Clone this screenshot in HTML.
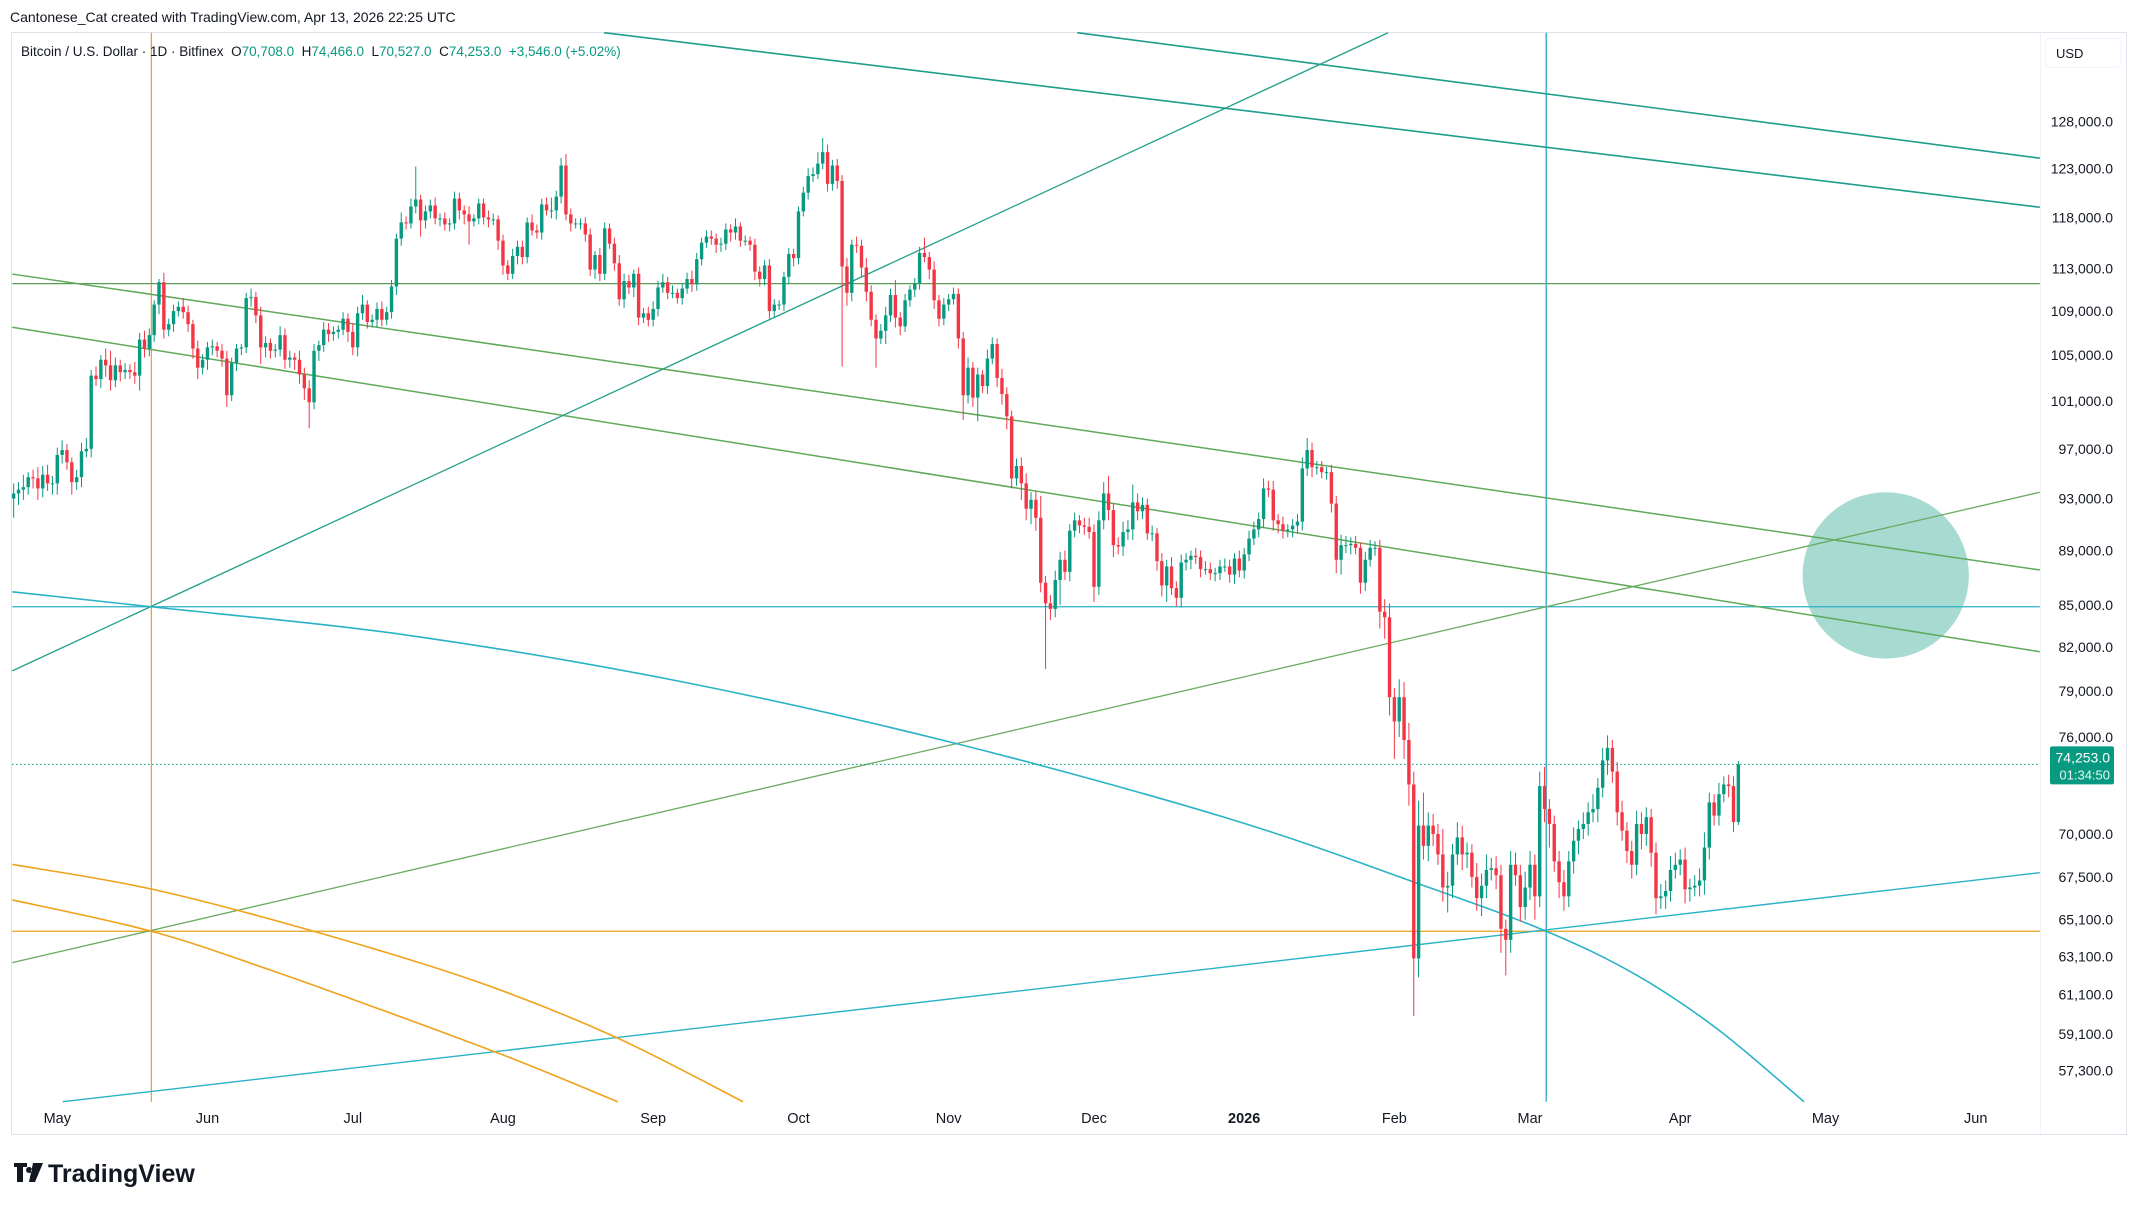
<!DOCTYPE html>
<html><head><meta charset="utf-8"><style>
html,body{margin:0;padding:0;background:#fff;width:2138px;height:1208px;overflow:hidden}
svg{display:block}
text{font-family:"Liberation Sans",sans-serif}
</style></head><body>
<svg id="c" width="2138" height="1208" viewBox="0 0 2138 1208" xmlns="http://www.w3.org/2000/svg">
<rect x="0" y="0" width="2138" height="1208" fill="#fff"/>
<text x="10" y="22" font-size="14" fill="#131722">Cantonese_Cat created with TradingView.com, Apr 13, 2026 22:25 UTC</text>
<rect x="11.5" y="32.5" width="2115" height="1102" fill="none" stroke="#e0e3eb"/>
<line x1="2040.5" y1="33" x2="2040.5" y2="1134" stroke="#f0f3fa"/>
<g id="draw"></g>
<g id="candles"></g>
<g id="axes"></g>
<text x="21" y="56" font-size="13.5" fill="#131722" xml:space="preserve">Bitcoin / U.S. Dollar · 1D · Bitfinex  <tspan fill="#131722">O</tspan><tspan fill="#089981">70,708.0</tspan>  <tspan fill="#131722">H</tspan><tspan fill="#089981">74,466.0</tspan>  <tspan fill="#131722">L</tspan><tspan fill="#089981">70,527.0</tspan>  <tspan fill="#131722">C</tspan><tspan fill="#089981">74,253.0  +3,546.0 (+5.02%)</tspan></text>
<rect x="2045.5" y="38.5" width="75" height="29" rx="4" fill="#fff" stroke="#f0f3fa"/>
<text x="2056" y="58" font-size="13" fill="#131722">USD</text>
<g>
<path d="M14 1163h13v4h-4v15h-6v-15h-3z M29 1167a3 3 0 1 0 0.1 0z M33 1163h10l-8 19h-6z" fill="#131722"/>
<text x="48" y="1182" font-size="25" font-weight="bold" fill="#131722">TradingView</text>
</g>
</svg>
<script>
// ---- data ----
const startDateLabel = "2025-04-22";
const closes = [
93.4,93.7,93.9,94.7,94.6,93.8,94.9,94.2,94.2,
96.5,96.9,95.9,94.3,94.7,96.8,97.0,103.2,102.9,104.6,104.1,102.8,104.1,103.5,103.7,103.5,103.2,106.4,105.6,106.8,109.6,111.7,107.3,107.8,109.0,109.4,108.9,107.8,105.6,103.9,104.6,
105.7,105.8,105.4,104.7,101.5,104.3,105.6,105.7,110.2,110.3,108.6,105.7,106.1,105.4,105.5,106.8,104.6,104.8,104.6,103.3,102.1,100.9,105.4,105.9,107.3,106.9,107.1,107.3,108.3,107.1,
105.7,108.8,109.6,108.0,108.2,109.2,108.2,108.9,111.3,115.9,117.5,117.4,119.1,119.8,117.7,118.6,119.2,117.9,117.9,117.3,117.4,119.9,118.7,118.3,117.6,117.9,119.4,118.0,117.8,117.8,115.7,
113.3,112.5,114.2,115.1,114.1,117.5,116.7,116.5,119.3,118.7,118.7,120.1,123.3,118.3,117.4,117.4,117.4,116.3,112.9,114.3,112.5,116.9,115.4,113.5,110.1,111.8,111.2,112.5,108.4,108.8,108.2,
109.2,111.2,111.7,110.7,110.7,110.2,111.1,112.0,111.5,113.9,115.5,116.1,115.9,115.3,115.4,116.8,116.5,117.1,115.7,115.7,115.3,112.7,112.0,113.3,109.0,109.6,109.6,112.2,114.4,114.0,
118.6,120.5,122.2,122.4,123.5,124.7,121.4,123.3,121.7,113.2,110.7,115.3,115.2,113.1,110.8,108.2,106.5,107.2,108.6,110.5,108.4,107.6,110.0,111.0,111.6,114.5,114.1,112.9,110.0,108.3,109.6,
110.1,110.6,106.5,101.5,103.9,101.3,103.3,102.3,104.7,106.0,103.0,101.6,99.7,94.6,95.6,94.2,92.2,92.9,91.5,86.6,85.1,84.7,86.8,88.3,87.4,90.5,91.3,90.9,90.8,90.4,
86.3,91.3,93.4,92.1,89.4,89.3,90.4,90.6,92.7,92.0,92.5,90.3,90.3,88.2,86.4,87.8,86.2,85.5,88.1,88.3,88.6,88.5,87.6,87.6,87.3,87.3,87.8,87.8,87.2,88.4,87.5,
88.7,89.9,90.6,91.4,93.8,93.7,91.3,91.0,90.5,90.6,90.9,91.2,95.4,96.9,95.5,95.5,95.1,95.1,92.6,88.3,89.4,89.4,89.5,89.2,86.6,88.3,89.2,89.2,84.5,84.1,78.6,
77.0,78.6,75.8,73.0,63.0,70.5,69.3,70.5,70.0,68.8,66.9,67.0,68.8,69.8,68.8,68.9,67.5,66.3,67.0,67.9,68.0,67.6,64.6,64.0,68.2,67.6,65.8,66.9,
68.2,66.4,72.9,71.5,70.6,68.4,67.2,66.4,68.4,69.6,70.3,70.6,71.3,71.5,72.8,74.5,75.3,73.8,71.3,70.2,69.0,68.2,70.6,70.0,71.0,68.9,66.3,66.4,66.7,67.9,68.2,
68.5,66.8,66.9,67.0,67.3,69.2,71.9,71.1,72.4,73.0,72.9,70.708,74.253
];
const wickUp = [
0.8,0.6,1.0,0.4,0.6,0.9,0.7,0.8,0.6,
0.6,0.8,0.5,0.4,0.6,0.7,0.9,0.5,0.8,0.4,1.0,1.3,0.7,0.5,0.6,0.5,0.9,0.6,0.8,0.6,0.4,0.3,0.9,0.5,0.6,0.5,0.8,0.6,0.4,0.7,0.5,
0.5,0.6,0.4,0.6,0.7,0.5,0.4,0.3,0.5,0.8,0.5,0.8,0.6,0.4,0.5,0.8,0.6,0.6,0.4,0.8,0.6,0.7,0.6,0.4,0.7,0.6,0.5,0.4,0.6,0.5,
0.8,0.6,0.9,0.4,0.5,0.6,0.7,0.5,0.6,0.5,1.0,0.6,0.8,3.4,0.5,0.6,0.6,0.8,0.5,0.6,0.5,0.7,0.6,0.5,0.8,0.4,0.5,0.5,0.7,0.6,0.4,
0.6,0.5,0.7,0.6,0.6,0.5,0.8,0.6,0.6,0.7,1.3,0.6,0.8,1.2,0.6,0.5,0.5,0.6,0.6,0.4,0.7,0.6,0.5,0.6,0.8,0.7,0.6,0.4,0.6,0.5,0.6,
0.7,0.6,0.8,0.5,0.7,0.4,0.5,0.6,0.8,0.6,0.5,0.6,0.6,0.5,0.6,0.6,0.5,0.8,0.4,0.5,0.4,0.6,0.5,0.5,0.6,0.5,0.4,0.5,0.6,0.5,
0.5,0.6,0.8,0.7,1.2,1.5,0.8,0.6,0.7,0.6,0.8,0.5,0.8,0.6,0.9,0.6,0.5,0.6,0.8,0.6,1.4,0.5,0.6,0.4,0.5,0.6,1.5,0.5,0.8,0.5,0.6,
0.5,0.6,0.5,0.6,0.9,0.5,0.6,0.4,0.8,0.6,0.5,0.8,0.6,0.5,0.6,0.7,0.8,0.6,0.7,1.7,0.5,0.6,0.7,0.6,0.7,0.5,0.6,0.4,0.6,0.7,
0.6,0.7,0.9,1.4,0.5,0.6,0.8,0.7,1.4,0.7,0.6,0.5,0.6,0.4,0.6,0.5,0.7,0.5,0.6,0.5,0.4,0.6,0.5,0.6,0.5,0.4,0.5,0.6,0.5,0.4,0.6,
0.5,0.6,0.6,0.5,0.8,0.6,0.7,0.5,0.6,0.4,0.5,0.6,0.9,1.0,0.6,0.5,0.5,0.4,0.6,0.6,0.8,0.7,0.5,0.6,0.4,0.6,0.6,0.5,0.6,0.9,1.0,
0.6,1.2,1.0,1.1,0.8,1.5,2.0,0.8,0.7,0.6,1.5,0.8,0.6,0.9,0.7,0.6,0.5,0.8,0.7,0.9,0.6,0.7,0.6,0.5,0.8,0.7,0.6,0.9,
0.8,0.6,0.9,1.2,0.6,0.5,0.6,0.7,0.6,0.8,0.5,0.7,0.6,0.9,0.6,0.8,0.8,0.5,0.6,0.7,0.5,0.6,0.8,0.7,0.6,0.5,0.6,0.7,0.6,0.8,0.7,
0.6,0.7,0.5,0.6,0.7,0.9,0.6,0.5,0.7,0.5,0.6,0.6,0.213
];
const wickDn = [
1.5,0.9,0.8,0.6,0.8,0.9,0.7,0.6,0.9,
0.9,0.7,0.6,1.0,0.6,0.8,0.5,0.7,0.6,0.8,1.0,0.9,0.6,0.8,0.6,0.6,0.7,1.3,0.8,0.7,0.6,0.9,0.8,0.6,0.7,0.5,0.6,0.7,0.9,1.0,0.6,
0.9,0.7,0.6,0.7,1.0,0.5,0.7,0.6,0.5,0.8,0.7,1.5,0.9,0.7,0.6,0.6,0.8,0.7,0.9,0.8,1.0,2.2,0.6,0.9,0.6,0.7,0.6,0.6,0.5,0.9,
0.7,0.8,0.6,0.6,0.5,0.7,0.6,0.5,0.6,0.8,0.7,0.6,0.5,0.7,1.6,0.8,0.7,0.6,0.8,0.6,0.7,0.6,0.9,1.0,2.3,0.5,0.6,0.7,0.8,0.6,0.9,
0.9,0.6,0.5,0.8,0.7,0.6,0.5,0.6,0.7,0.5,0.8,0.9,0.7,0.6,0.8,0.5,0.6,0.7,0.6,0.9,0.7,0.6,0.5,0.7,0.6,0.8,0.6,0.9,0.7,0.5,0.6,
0.6,0.7,0.5,0.6,0.5,0.5,0.6,0.5,0.7,0.6,0.6,0.5,0.6,0.8,0.7,0.6,0.9,0.7,0.6,0.5,0.6,0.8,0.7,0.6,0.7,0.6,0.5,0.6,0.7,0.8,
0.6,0.5,0.7,0.6,0.5,0.6,0.8,0.7,0.8,9.2,1.2,0.8,0.7,0.9,0.9,0.6,2.6,0.5,1.2,0.6,0.9,0.8,0.5,0.6,0.7,0.6,0.5,0.9,0.8,0.7,0.6,
0.6,0.5,0.9,2.1,0.7,0.8,2.0,0.6,0.7,0.5,0.8,0.9,1.1,0.8,0.6,1.3,0.9,1.2,1.0,0.7,4.6,0.8,0.6,1.8,0.6,0.7,0.5,0.6,0.6,0.5,
1.1,0.6,0.7,0.8,0.9,0.6,0.7,0.6,0.8,0.7,0.6,0.5,0.6,0.7,0.8,1.2,0.5,0.6,0.7,0.6,0.7,0.5,0.6,0.4,0.5,0.6,0.5,0.4,0.6,0.7,0.5,
0.6,0.5,0.5,0.6,0.7,0.6,0.8,0.7,0.6,0.5,0.6,0.6,0.7,0.6,0.8,0.6,0.5,0.6,0.7,1.0,1.1,0.6,0.7,0.5,0.8,0.6,0.5,0.6,1.2,1.5,1.2,
2.4,1.0,1.2,1.3,3.0,1.0,0.8,0.9,0.7,0.6,0.8,1.4,0.7,0.6,0.9,0.8,0.6,0.7,1.0,0.7,0.6,0.8,1.3,1.9,0.7,0.6,0.8,0.7,
0.7,1.3,0.6,0.8,1.4,0.6,0.9,0.8,0.6,0.7,0.8,0.6,0.7,0.6,0.8,0.6,0.9,0.7,0.8,0.6,0.7,0.8,0.6,0.9,0.7,0.8,0.9,0.6,0.7,0.6,0.5,
0.6,0.8,0.7,0.5,0.6,0.8,0.7,0.6,0.6,0.5,0.7,0.6,0.181
];
const firstOpen = 93.0;
const priceTicks = [128000,123000,118000,113000,109000,105000,101000,97000,93000,89000,85000,82000,79000,76000,70000,67500,65100,63100,61100,59100,57300];
const monthLabels = ["May","Jun","Jul","Aug","Sep","Oct","Nov","Dec","2026","Feb","Mar","Apr","May","Jun"];
const monthDays = [0,31,61,92,123,153,184,214,245,276,304,335,365,396];
const lastPrice = 74253;
const firstDayOffset = -9; // Apr 22 2025 relative to May 1 2025

// ---- axes ----
const NS="http://www.w3.org/2000/svg";
const S=2138/1568;
const X0=42*S, DX=3.553*S, Y0=89*S, KY=866*S, PREF=128000;
const PL=12, PR=2040, PT=33, PB=1102;
function xDay(d){return X0+d*DX;}
function yP(p){return Y0+Math.log(PREF/p)*KY;}
function mk(tag,attrs,parent){const e=document.createElementNS(NS,tag);for(const k in attrs)e.setAttribute(k,attrs[k]);parent.appendChild(e);return e;}

// ---- drawings (annotation geometry in reference-view units) ----
const dg=document.getElementById('draw');
function L(x1,y1,x2,y2,col,w,name){
  const e=mk('line',{x1:x1*S,y1:y1*S,x2:x2*S,y2:y2*S,stroke:col,'stroke-width':w},dg);
  
  
  return e;
}
function P(pts,col,w,name){
  let d='';
  for(let i=0;i<pts.length;i++){
    const p=pts[i];
    if(i===0){d+='M'+p[0]*S+','+p[1]*S;continue;}
    const p0=pts[Math.max(0,i-2)],p1=pts[i-1],p3=pts[Math.min(pts.length-1,i+1)];
    const c1x=p1[0]+(p[0]-p0[0])/6,c1y=p1[1]+(p[1]-p0[1])/6,c2x=p[0]-(p3[0]-p1[0])/6,c2y=p[1]-(p3[1]-p1[1])/6;
    d+=' C'+c1x*S+','+c1y*S+' '+c2x*S+','+c2y*S+' '+p[0]*S+','+p[1]*S;
  }
  const e=mk('path',{d:d,fill:'none',stroke:col,'stroke-width':w},dg);
  
  
}
const circ=mk('circle',{cx:1383*S,cy:422*S,r:61*S,fill:'#0a9a80','fill-opacity':0.36},dg);


L(111,24,111,808,'#e8a317',1.2,'orange-vertical-line');
L(1134,24,1134,808,'#2aa8bf',1.3,'cyan-vertical-line');
L(9,208,1496,208,'#5a9e55',1.3,'green-horizontal-line');
L(9,445,1496,445,'#2ab3c6',1.3,'cyan-horizontal-line');
L(9,683,1496,683,'#e6a21b',1.3,'orange-horizontal-line');
L(9,201,1496,418,'#5fa95a',1.5,'green-descending-line-1');
L(9,240,1496,478,'#5fa95a',1.5,'green-descending-line-2');
L(9,706,1496,361,'#6aab60',1.3,'green-ascending-line');
L(9,492,1018,24,'#22a08c',1.3,'teal-ascending-line');
L(443,24,1496,152,'#1e9c8c',1.6,'teal-descending-line-1');
L(790,24,1496,116,'#1e9c8c',1.6,'teal-descending-line-2');
L(46,808,1496,640,'#2ab3c6',1.4,'cyan-ascending-line');
P([[9,434],[111,445],[300,466],[500,500],[700,545],[900,600],[1040,648],[1134,683],[1200,715],[1260,755],[1323,808]],'#2ab3c6',1.6,'cyan-descending-curve');
P([[9,634],[111,652],[230,683],[350,720],[450,760],[545,808]],'#f0a21a',1.6,'orange-curve-upper');
P([[9,660],[111,683],[200,712],[300,748],[380,778],[453,808]],'#f0a21a',1.6,'orange-curve-lower');
const lp=mk('line',{x1:PL,y1:yP(lastPrice),x2:PR,y2:yP(lastPrice),stroke:'#089981','stroke-width':1,'stroke-dasharray':'1.5 2.5'},dg);



// ---- candles ----
const cg=document.getElementById('candles');
let prev=firstOpen;
for(let i=0;i<closes.length;i++){
  const o=prev,c=closes[i];
  const up=wickUp[i]!==undefined?wickUp[i]:0.5, dn=wickDn[i]!==undefined?wickDn[i]:0.5;
  const h=Math.max(o,c)+up, l=Math.min(o,c)-dn;
  const x=xDay(firstDayOffset+i);
  const col=c>=o?'#089981':'#f23645';
  const g=mk('g',{},cg);
  
  
  mk('line',{x1:x,y1:yP(h*1000),x2:x,y2:yP(l*1000),stroke:col,'stroke-width':1},g);
  const yt=yP(Math.max(o,c)*1000),yb=yP(Math.min(o,c)*1000);
  mk('rect',{x:x-1.7,y:yt,width:3.4,height:Math.max(1,yb-yt),fill:col},g);
  prev=c;
}

// ---- axis labels ----
const ag=document.getElementById('axes');
for(const p of priceTicks){
  const t=mk('text',{x:2113,y:yP(p)+5,'font-size':14,'text-anchor':'end',fill:'#131722'},ag);
  t.textContent=p.toLocaleString('en-US')+'.0';
  
  
}
for(let i=0;i<monthLabels.length;i++){
  const t=mk('text',{x:xDay(monthDays[i]),y:1123,'font-size':14.5,'text-anchor':'middle',fill:'#131722'},ag);
  if(monthLabels[i]==='2026')t.setAttribute('font-weight','bold');
  t.textContent=monthLabels[i];
  
  
}
const by=yP(lastPrice);
const badge=mk('rect',{x:2050,y:by-18,width:64,height:38,rx:2,fill:'#089981'},ag);


const bt=mk('text',{x:2110,y:by-2,'font-size':14,'text-anchor':'end',fill:'#fff'},ag);
bt.textContent=lastPrice.toLocaleString('en-US')+'.0';


const bc=mk('text',{x:2110,y:by+15,'font-size':13,'text-anchor':'end',fill:'#e6f5f1'},ag);
bc.textContent='01:34:50';


</script>
</body></html>
